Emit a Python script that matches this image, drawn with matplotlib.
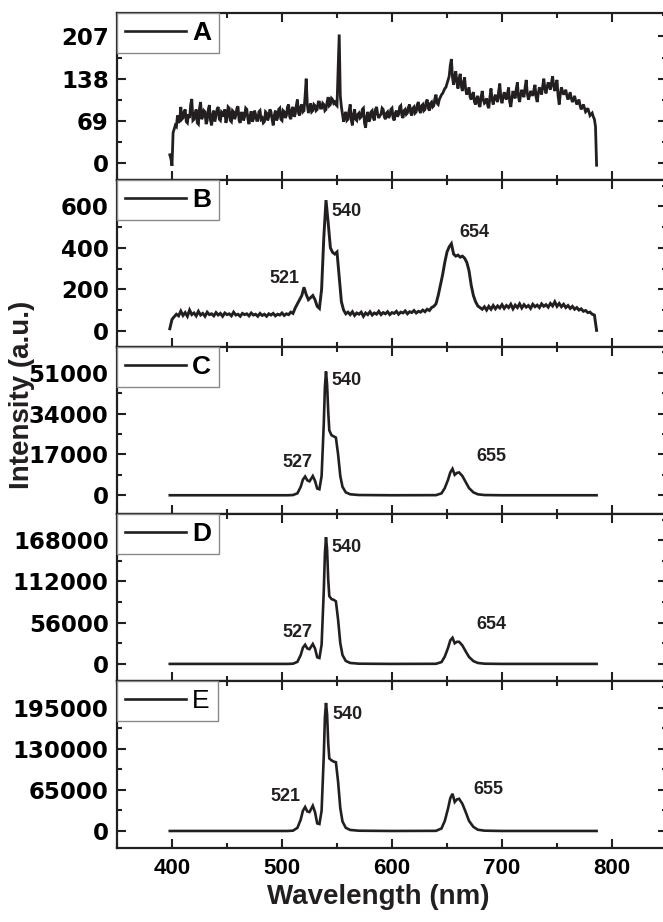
import numpy as np
import matplotlib
matplotlib.use('Agg')
import matplotlib.pyplot as plt
from matplotlib.ticker import MultipleLocator, AutoMinorLocator

# ---- data ----
# spectrum A, every 1 nm from 398 nm
a_vals = [14, 8, -4, 50, 56, 62, 60, 78, 66, 70, 92, 72, 74, 84, 88, 68, 66, 80, 74, 96,
          105, 70, 72, 82, 88, 66, 64, 90, 100, 72, 76, 86, 84, 64, 70, 88, 95, 70, 62, 80,
          86, 68, 78, 88, 92, 72, 70, 84, 82, 76, 88, 66, 74, 92, 90, 70, 68, 86, 84, 72,
          78, 90, 93, 70, 66, 82, 82, 70, 76, 90, 88, 72, 64, 78, 85, 68, 72, 86, 80, 70,
          70, 84, 86, 72, 74, 66, 68, 84, 82, 70, 76, 88, 84, 72, 62, 78, 86, 70, 74, 88,
          90, 72, 70, 86, 84, 74, 78, 92, 96, 76, 72, 88, 92, 76, 80, 94, 104, 82, 78, 92,
          96, 84, 86, 110, 138, 96, 82, 90, 98, 84, 86, 96, 94, 86, 88, 100, 100, 90, 90, 98,
          96, 86, 88, 100, 108, 94, 96, 106, 104, 98, 100, 96, 94, 150, 210, 110, 92, 80, 68, 78,
          84, 70, 72, 86, 96, 70, 62, 80, 88, 72, 70, 80, 82, 74, 76, 88, 90, 66, 58, 76,
          84, 68, 72, 84, 86, 74, 70, 88, 92, 80, 74, 78, 80, 90, 88, 76, 72, 82, 84, 74,
          78, 88, 90, 74, 70, 82, 86, 76, 80, 92, 94, 78, 74, 86, 88, 80, 82, 92, 96, 82,
          78, 90, 92, 82, 84, 96, 100, 86, 82, 94, 96, 86, 88, 100, 104, 90, 86, 98, 100, 92,
          94, 106, 112, 98, 96, 104, 108, 112, 114, 118, 122, 124, 130, 136, 142, 160, 170, 140, 128, 142,
          150, 132, 122, 138, 146, 126, 118, 132, 140, 120, 112, 118, 124, 108, 104, 112, 116, 100, 96, 106,
          110, 96, 92, 108, 118, 104, 98, 100, 106, 94, 90, 108, 122, 104, 96, 106, 112, 104, 100, 118,
          130, 106, 98, 108, 116, 108, 104, 114, 124, 100, 92, 106, 118, 110, 106, 122, 132, 108, 100, 112,
          120, 112, 108, 124, 136, 114, 104, 110, 118, 114, 110, 120, 128, 108, 100, 114, 124, 118, 112, 126,
          138, 122, 114, 124, 132, 126, 120, 132, 142, 126, 118, 128, 136, 110, 96, 112, 124, 118, 112, 116,
          120, 110, 104, 110, 116, 106, 100, 104, 110, 102, 96, 100, 104, 94, 88, 92, 96, 90, 84, 86,
          90, 84, 78, 80, 82, 76, 72, 60, -3]

# spectrum B, every 2 nm from 398 nm
b_vals = [10, 55, 68, 80, 72, 95, 74, 88, 70, 100, 78, 86, 72, 94, 76, 84, 70, 90, 78, 82,
          72, 88, 76, 84, 70, 86, 78, 82, 72, 90, 76, 80, 70, 84, 78, 82, 72, 86, 76, 80,
          70, 84, 74, 80, 70, 82, 76, 84, 72, 80, 76, 86, 74, 82, 78, 90, 84, 110, 130, 150,
          170, 210, 175, 150, 160, 170, 150, 118, 108, 200, 450, 630, 520, 400, 378, 370, 380, 260, 140, 100,
          82, 90, 78, 92, 74, 86, 80, 90, 70, 86, 78, 92, 76, 86, 80, 94, 78, 88, 82, 92,
          78, 88, 84, 94, 80, 90, 86, 96, 82, 92, 88, 98, 86, 94, 90, 100, 92, 104, 98, 112,
          118, 130, 170, 220, 270, 330, 380, 405, 420, 370, 360, 365, 355, 360, 350, 330, 290, 220, 170, 140,
          120, 112, 104, 116, 100, 118, 104, 122, 106, 120, 110, 126, 108, 122, 112, 128, 106, 124, 112, 130,
          110, 126, 114, 122, 108, 128, 116, 124, 112, 130, 118, 126, 114, 132, 120, 140, 118, 132, 116, 128,
          112, 122, 108, 118, 104, 112, 100, 106, 94, 98, 88, 90, 80, 76, 2]

# smooth spectra C, D, E at irregular wavelengths
wl_s = [398, 480, 505, 510, 514, 517, 519, 521, 523, 525, 528, 530, 532, 534, 536, 538, 539,
        540, 541, 542, 543, 545, 547, 549, 551, 553, 555, 558, 562, 570, 600, 640, 645,
        648, 651, 653, 655, 657, 659, 661, 664, 667, 670, 674, 678, 684, 700, 786]
c_vals = [0, 0, 0, 100, 800, 3500, 6500, 7800, 6200, 5800, 8000, 6000, 2800, 2500, 8000, 30000, 45000,
          51500, 46000, 35000, 27000, 25000, 24500, 24000, 17000, 8000, 3500, 1200, 400, 100, 0, 50, 800,
          3000, 6500, 9500, 11000, 8500, 9300, 9500, 8000, 5500, 3000, 1200, 400, 100, 0, 0]
d_vals = [0, 0, 0, 300, 2800, 12000, 22000, 26000, 21000, 20000, 27000, 21000, 9000, 8000, 26000, 100000, 150000,
          172000, 155000, 115000, 92000, 88000, 87000, 85000, 60000, 28000, 12000, 4000, 1300, 300, 0, 150, 2500,
          10000, 22000, 32000, 35500, 28000, 30000, 30000, 25000, 17000, 9500, 3800, 1300, 300, 0, 0]
e_vals = [0, 0, 0, 500, 5000, 18000, 32000, 38000, 31000, 30000, 40000, 30000, 12000, 11000, 32000, 120000, 180000,
          203000, 185000, 140000, 115000, 112000, 110000, 109000, 78000, 36000, 15000, 5000, 1600, 400, 0, 200, 4000,
          16000, 36000, 52000, 59000, 46000, 50000, 51000, 43000, 30000, 16000, 6500, 2000, 500, 0, 0]

labels = ['A', 'B', 'C', 'D', 'E']
yticks = [[0, 69, 138, 207], [0, 200, 400, 600], [0, 17000, 34000, 51000],
          [0, 56000, 112000, 168000], [0, 65000, 130000, 195000]]
ylims = [(-27, 245), (-78, 727), (-7800, 61700), (-23200, 203500), (-27000, 237800)]
peak_notes = [
    [],
    [('521', 502, 250), ('540', 559, 576), ('654', 675, 473)],
    [('527', 514, 13600), ('540', 559, 47700), ('655', 690, 16000)],
    [('527', 514, 42300), ('540', 559, 158000), ('654', 690, 53000)],
    [('521', 503, 54000), ('540', 560, 184000), ('655', 688, 65000)],
]

wl_a = np.arange(398, 398 + len(a_vals))
wl_b = np.arange(398, 398 + 2 * len(b_vals), 2)
series = [(wl_a, a_vals), (wl_b, b_vals), (wl_s, c_vals), (wl_s, d_vals), (wl_s, e_vals)]
widths = [2.0, 2.1, 1.9, 1.9, 1.9]

# ---- figure ----
plt.rcParams['font.family'] = ['Liberation Sans', 'DejaVu Sans']
ink = '#231f20'

fig, axes = plt.subplots(5, 1, figsize=(6.63, 9.22), dpi=100, sharex=True)
fig.subplots_adjust(left=117/663, right=667/663, top=1-13/922, bottom=1-848/922, hspace=0)

for i, ax in enumerate(axes):
    x, y = series[i]
    ax.plot(x, y, color=ink, lw=widths[i], label=labels[i], solid_joinstyle='miter')
    ax.set_xlim(350, 850)
    ax.set_ylim(*ylims[i])
    ax.set_yticks(yticks[i])
    ax.yaxis.set_minor_locator(AutoMinorLocator(2))
    ax.xaxis.set_major_locator(MultipleLocator(100))
    ax.xaxis.set_minor_locator(MultipleLocator(50))
    ax.tick_params(which='both', direction='in', top=True, right=True, width=1.5, color=ink)
    ax.tick_params(which='major', length=6.5)
    ax.tick_params(which='minor', length=3.5)
    ax.tick_params(axis='y', pad=6)
    ax.tick_params(axis='x', pad=7, labelsize=16)
    for t in ax.get_yticklabels():
        t.set_fontfamily('DejaVu Sans')
        t.set_fontweight('bold')
        t.set_fontsize(16.5)
    for t in ax.get_xticklabels():
        t.set_fontweight('bold')
    for s in ax.spines.values():
        s.set_linewidth(1.6)
        s.set_color(ink)
    leg = ax.legend(loc='upper left', borderaxespad=0, fancybox=False, framealpha=1,
                    edgecolor='#8a8a8a', handlelength=2.3, handletextpad=0.25, borderpad=0.3,
                    prop={'size': 19, 'weight': 'normal' if labels[i] == 'E' else 'bold'})
    leg.get_frame().set_linewidth(1.0)
    leg.get_lines()[0].set_linewidth(1.9)
    for txt, px, py in peak_notes[i]:
        ax.text(px, py, txt, ha='center', va='center', fontsize=13, fontweight='bold', color=ink)

fig.text(378/663, 1-897/922, 'Wavelength (nm)', ha='center', va='center',
         fontsize=20, fontweight='bold', color=ink)
fig.text(22/663, 1-395/922, 'Intensity (a.u.)', ha='center', va='center', rotation=90,
         fontsize=20, fontweight='bold', color=ink)

fig.savefig('out.png', dpi=100)
